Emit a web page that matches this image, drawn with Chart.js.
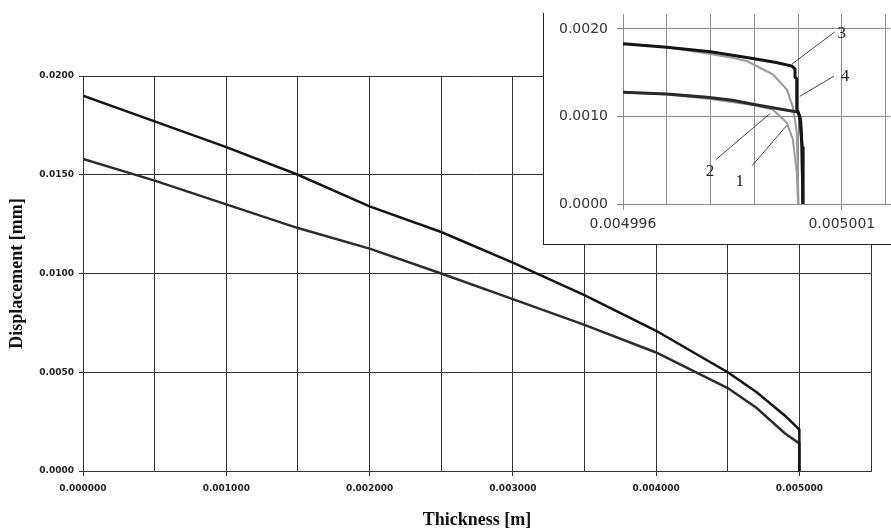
<!DOCTYPE html>
<html>
<head>
<meta charset="utf-8">
<script src="https://cdn.jsdelivr.net/npm/chart.js@4.4.1/dist/chart.umd.min.js"></script>
<style>
  html, body { margin: 0; padding: 0; background: #fff; }
  #wrap { position: relative; width: 891px; height: 531px; overflow: hidden; }
  #mainChart { position: absolute; left: 0; top: 0; }
  #inset {
    position: absolute; left: 543px; top: 13px;
    width: 347px; height: 231px; background: #fff;
    border-left: 1px solid #222; border-bottom: 1px solid #222;
  }
  #inset canvas { display: block; }
</style>
</head>
<body>
<div id="wrap">
  <canvas id="mainChart" width="891" height="531"></canvas>
  <div id="inset"><canvas id="insetChart" width="347" height="231"></canvas></div>
</div>
<script>
// main chart: displacement through the thickness
const thickness = [0, 0.0005, 0.001, 0.0015, 0.002, 0.0025, 0.003, 0.0035, 0.004, 0.0045, 0.0047, 0.0049, 0.005, 0.005];
const dispUpper = [0.0190, 0.0177, 0.0164, 0.0150, 0.0134, 0.0121, 0.01055, 0.0089, 0.0071, 0.0050, 0.0040, 0.0028, 0.0021, 0];
const dispLower = [0.0158, 0.0147, 0.0135, 0.0123, 0.01126, 0.0100, 0.0087, 0.0074, 0.0060, 0.0042, 0.0032, 0.0019, 0.0014, 0];

const mainXTicks = [0, 0.0005, 0.001, 0.0015, 0.002, 0.0025, 0.003, 0.0035, 0.004, 0.0045, 0.005, 0.0055];
const mainYTicks = [0, 0.005, 0.01, 0.015, 0.02];

// inset: zoom near the surface (x in m, y in mm)
const curve1X = [0.004996, 0.004997, 0.00499792, 0.0049985, 0.00499884, 0.00499942, 0.00499974, 0.00499988, 0.00499997, 0.00499999, 0.00500001];
const curve1Y = [0.00183, 0.00179, 0.00172, 0.00167, 0.00163, 0.00148, 0.00131, 0.00111, 0.00082, 0.00043, 0];
const curve2X = [0.004996, 0.004997, 0.004998, 0.00499897, 0.00499942, 0.00499974, 0.00499988, 0.00499997, 0.005];
const curve2Y = [0.001276, 0.00125, 0.0012, 0.00113, 0.00108, 0.00093, 0.00074, 0.00036, 0];
const curve3X = [0.004996, 0.004997, 0.004998, 0.0049985, 0.004999, 0.0049995, 0.00499986, 0.00499993, 0.00499993, 0.00499997, 0.00499997, 0.00500004, 0.00500009, 0.00500011];
const curve3Y = [0.00183, 0.00179, 0.00174, 0.00170, 0.00166, 0.001615, 0.001575, 0.00154, 0.00145, 0.00143, 0.00108, 0.00100, 0.000655, 0];
const curve4X = [0.004996, 0.004997, 0.00499792, 0.0049985, 0.00499897, 0.00499942, 0.00499988, 0.005, 0.00500006, 0.00500009, 0.00500011];
const curve4Y = [0.001276, 0.001255, 0.00122, 0.001185, 0.00114, 0.0011, 0.00106, 0.00105, 0.00095, 0.000655, 0];

const insetXTicks = [0.004996, 0.004997, 0.004998, 0.004999, 0.005, 0.005001, 0.005002];
const insetYTicks = [0, 0.001, 0.002];

// curve numbers with leader lines, in data coordinates of the inset
const insetNotes = [
  { text: '1', at: [0.00499867, 0.000253], from: [0.00499895, 0.000437], to: [0.00499974, 0.000897] },
  { text: '2', at: [0.00499799, 0.000368], from: [0.00499812, 0.000506], to: [0.00499936, 0.001034] },
  { text: '3', at: [0.005001, 0.001943], from: [0.00500084, 0.001966], to: [0.00499986, 0.001598] },
  { text: '4', at: [0.00500107, 0.00146], from: [0.00500082, 0.00146], to: [0.00500004, 0.00123] }
];

function toPoints(xs, ys) {
  return xs.map((x, i) => ({ x: x, y: ys[i] }));
}

// fixed axis boxes, no extra room for half labels
function fixHeight(h) {
  return s => { s.height = h; s.paddingLeft = 0; s.paddingRight = 0; };
}
function fixWidth(w) {
  return s => { s.width = w; s.paddingTop = 0; s.paddingBottom = 0; };
}

const mainChart = new Chart(document.getElementById('mainChart'), {
  type: 'line',
  data: {
    datasets: [
      { label: 'upper', data: toPoints(thickness, dispUpper), borderColor: '#141414', borderWidth: 2.5, pointRadius: 0, tension: 0 },
      { label: 'lower', data: toPoints(thickness, dispLower), borderColor: '#2c2c2c', borderWidth: 2.5, pointRadius: 0, tension: 0 }
    ]
  },
  options: {
    responsive: false,
    animation: false,
    devicePixelRatio: 1,
    layout: { padding: { top: 76, right: 20, left: 0, bottom: 0 } },
    plugins: { legend: { display: false }, tooltip: { enabled: false } },
    scales: {
      x: {
        type: 'linear', min: 0, max: 0.0055,
        afterBuildTicks: s => { s.ticks = mainXTicks.map(v => ({ value: v })); },
        afterFit: fixHeight(60),
        grid: {
          color: '#333', lineWidth: 1, tickLength: 5,
          tickColor: ctx => (ctx.index % 2 === 0 ? '#333' : 'rgba(0,0,0,0)')
        },
        border: { color: '#333' },
        ticks: {
          autoSkip: false, maxRotation: 0, padding: 7, color: '#222',
          font: { family: 'DejaVu Sans', size: 9, weight: 'bold' },
          callback: (v, i) => (i % 2 === 0 ? Number(v).toFixed(6) : '')
        },
        title: {
          display: true, text: 'Thickness [m]', color: '#111',
          font: { family: 'Liberation Serif', size: 18, weight: 'bold' },
          padding: { top: 0, bottom: 0 }
        }
      },
      y: {
        type: 'linear', min: 0, max: 0.02,
        afterBuildTicks: s => { s.ticks = mainYTicks.map(v => ({ value: v })); },
        afterFit: fixWidth(83),
        grid: { color: '#333', lineWidth: 1, tickLength: 4, tickColor: '#333' },
        border: { color: '#333' },
        ticks: {
          padding: 5, color: '#222',
          font: { family: 'DejaVu Sans', size: 9, weight: 'bold' },
          callback: v => Number(v).toFixed(4)
        },
        title: {
          display: true, text: 'Displacement [mm]', color: '#111',
          font: { family: 'Liberation Serif', size: 18, weight: 'bold' },
          padding: { top: 7, bottom: 0 }
        }
      }
    }
  }
});

const notesPlugin = {
  id: 'notes',
  afterDatasetsDraw(chart) {
    const { ctx, scales: { x, y } } = chart;
    ctx.save();
    ctx.strokeStyle = '#444';
    ctx.lineWidth = 1;
    ctx.font = '17px "Liberation Serif"';
    ctx.fillStyle = '#222';
    ctx.textAlign = 'center';
    ctx.textBaseline = 'middle';
    insetNotes.forEach(n => {
      ctx.beginPath();
      ctx.moveTo(x.getPixelForValue(n.from[0]), y.getPixelForValue(n.from[1]));
      ctx.lineTo(x.getPixelForValue(n.to[0]), y.getPixelForValue(n.to[1]));
      ctx.stroke();
      ctx.fillText(n.text, x.getPixelForValue(n.at[0]), y.getPixelForValue(n.at[1]));
    });
    ctx.restore();
  }
};

const insetChart = new Chart(document.getElementById('insetChart'), {
  type: 'line',
  data: {
    datasets: [
      { label: '1', data: toPoints(curve1X, curve1Y), borderColor: '#9a9a9a', borderWidth: 2, pointRadius: 0, tension: 0, order: 1 },
      { label: '2', data: toPoints(curve2X, curve2Y), borderColor: '#9a9a9a', borderWidth: 2, pointRadius: 0, tension: 0, order: 1 },
      { label: '3', data: toPoints(curve3X, curve3Y), borderColor: '#151515', borderWidth: 3, pointRadius: 0, tension: 0, order: 0 },
      { label: '4', data: toPoints(curve4X, curve4Y), borderColor: '#2a2a2a', borderWidth: 3, pointRadius: 0, tension: 0, order: 0 }
    ]
  },
  plugins: [notesPlugin],
  options: {
    responsive: false,
    animation: false,
    devicePixelRatio: 1,
    layout: { padding: { top: 1, right: 1, left: 0, bottom: 0 } },
    plugins: { legend: { display: false }, tooltip: { enabled: false } },
    scales: {
      x: {
        type: 'linear', min: 0.004996, max: 0.0050021,
        afterBuildTicks: s => { s.ticks = insetXTicks.map(v => ({ value: v })); },
        afterFit: fixHeight(40),
        grid: {
          color: '#8c8c8c', lineWidth: 1, tickLength: 6,
          tickColor: ctx => (ctx.index === 0 || ctx.index === 5 ? '#8c8c8c' : 'rgba(0,0,0,0)')
        },
        border: { color: '#8c8c8c' },
        ticks: {
          autoSkip: false, maxRotation: 0, padding: 6, color: '#333',
          font: { family: 'DejaVu Sans', size: 14 },
          callback: (v, i) => (i === 0 || i === 5 ? Number(v).toFixed(6) : '')
        }
      },
      y: {
        type: 'linear', min: 0, max: 0.00217,
        afterBuildTicks: s => { s.ticks = insetYTicks.map(v => ({ value: v })); },
        afterFit: fixWidth(79),
        grid: { color: '#8c8c8c', lineWidth: 1, tickLength: 6, tickColor: '#8c8c8c' },
        border: { color: '#8c8c8c' },
        ticks: {
          padding: 9, color: '#333',
          font: { family: 'DejaVu Sans', size: 14 },
          callback: v => Number(v).toFixed(4)
        }
      }
    }
  }
});
</script>
</body>
</html>
